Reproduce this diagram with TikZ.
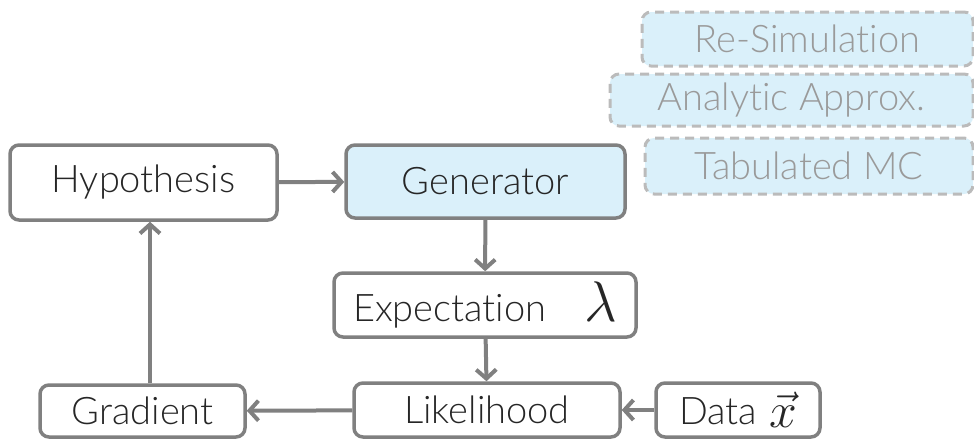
\documentclass[tikz,border=0pt]{standalone}
\usepackage{fontspec}
\setmainfont{Lato}[UprightFont={* Light},Ligatures={NoCommon}]
\usetikzlibrary{arrows.meta}
\definecolor{lineg}{HTML}{808080}
\definecolor{fillb}{HTML}{DAF0FA}
\definecolor{dashg}{HTML}{BBBBBB}
\definecolor{txtg}{HTML}{9A9A9A}
\begin{document}
\begin{tikzpicture}[x=1pt,y=-1pt,
  box/.style={draw=lineg,line width=3.5pt,rounded corners=9pt,fill=white,font=\fontsize{38}{40}\selectfont,text=black!85,inner sep=0pt},
  alt/.style={draw=dashg,line width=3pt,dash pattern=on 9pt off 6pt,rounded corners=9pt,fill=fillb,font=\fontsize{38}{40}\selectfont,text=txtg,inner sep=0pt},
  conn/.style={draw=lineg,line width=4pt,-{Straight Barb[length=9pt,width=20pt,line width=4pt]}}]
\useasboundingbox (0,0) rectangle (974,439);
\node[box,minimum width=267pt,minimum height=75pt] (hyp) at (143.5,182.5) {Hypothesis};
\node[box,fill=fillb,minimum width=279pt,minimum height=73pt] (gen) at (485.5,181.5) {Generator};
\node[box,minimum width=302pt,minimum height=64pt] (exp) at (485,305) {Expectation\hspace{38pt}\scalebox{2.3}{$\lambda$}};
\node[box,minimum width=266pt,minimum height=54pt] (lik) at (487,410) {Likelihood};
\node[box,minimum width=164pt,minimum height=54pt] (dat) at (738,410) {Data\hspace{12pt}\raisebox{-3pt}{\scalebox{2.0}{$\vec{x}$}}};
\node[box,minimum width=205pt,minimum height=52pt] (grad) at (142.5,411) {Gradient};
\node[alt,minimum width=331pt,minimum height=54pt] (resim) at (807.5,39) {Re-Simulation};
\node[alt,minimum width=363pt,minimum height=52pt] (ana) at (791.5,100) {Analytic Approx.};
\node[alt,minimum width=328pt,minimum height=56pt] (tab) at (809,166) {Tabulated MC};
\draw[conn] (hyp) -- (gen);
\draw[conn] (gen) -- (exp);
\draw[conn] (exp) -- (lik);
\draw[conn] (dat) -- (lik);
\draw[conn] (lik) -- (grad);
\draw[conn] ([xshift=6.5pt]grad.north -| hyp) -- ([xshift=6.5pt]hyp.south);
\end{tikzpicture}
\end{document}
